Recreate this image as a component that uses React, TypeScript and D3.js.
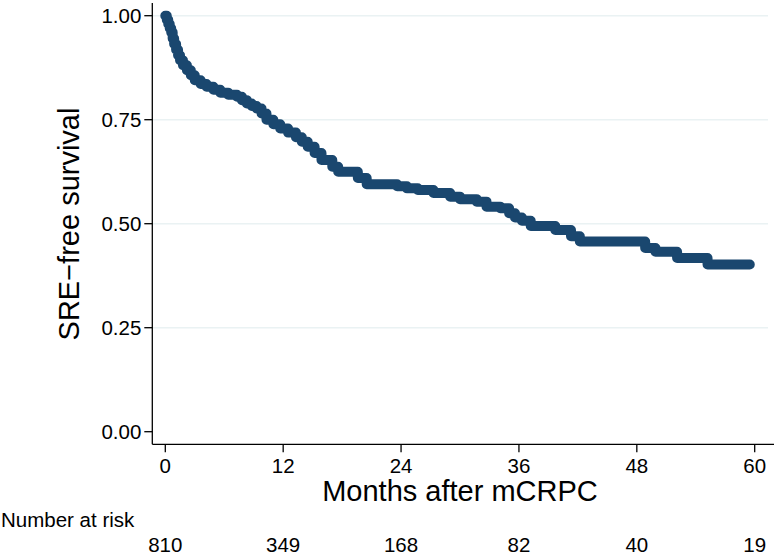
import React, { useEffect, useRef } from 'react';
import * as d3 from 'd3';

// KM step points: time (months) at which survival drops to the given value
const times = [0, 0.15, 0.3, 0.45, 0.6, 0.75, 0.9, 1.1, 1.3, 1.5, 1.8, 2.2, 2.6, 3.0, 3.6, 4.2, 4.9, 5.6, 6.4, 7.3, 7.8, 8.3, 8.8, 9.3, 9.8, 10.3, 11.0, 11.7, 12.5, 13.3, 13.9, 14.5, 15.2, 15.9, 17.0, 17.6, 19.6, 20.5, 23.6, 24.6, 25.7, 27.3, 29.0, 30.0, 31.7, 32.7, 34.1, 35.0, 35.6, 36.3, 37.2, 39.7, 41.3, 42.2, 48.85, 49.9, 52.1, 55.2, 59.5];
const survival = [1.0, 0.99, 0.98, 0.97, 0.96, 0.945, 0.932, 0.918, 0.905, 0.893, 0.881, 0.869, 0.857, 0.845, 0.836, 0.829, 0.822, 0.815, 0.81, 0.805, 0.797, 0.789, 0.783, 0.777, 0.765, 0.75, 0.739, 0.729, 0.719, 0.708, 0.697, 0.685, 0.67, 0.653, 0.637, 0.625, 0.61, 0.595, 0.59, 0.585, 0.581, 0.574, 0.565, 0.559, 0.553, 0.541, 0.537, 0.525, 0.515, 0.507, 0.4945, 0.485, 0.47, 0.457, 0.4416, 0.4327, 0.4175, 0.402, 0.402];

const yTicks = [0, 0.25, 0.5, 0.75, 1];
const xTicks = [0, 12, 24, 36, 48, 60];
const atRisk = [810, 349, 168, 82, 40, 19];

const W = 774;
const H = 556;
const FONT = "'Liberation Sans', Arial, Helvetica, sans-serif";

const App: React.FC = () => {
    const ref = useRef<SVGSVGElement | null>(null);

    useEffect(() => {
        const svg = d3.select(ref.current);
        svg.selectAll('*').remove();

        const x = d3.scaleLinear().domain([0, 60]).range([165.3, 754.7]);
        const y = d3.scaleLinear().domain([0, 1]).range([431.7, 15.7]);

        const axisLeftX = 152.3;
        const axisBottomY = 444.3;

        // gridlines
        svg.append('g')
            .selectAll('line')
            .data(yTicks.filter(d => d > 0))
            .enter()
            .append('line')
            .attr('x1', axisLeftX)
            .attr('x2', 768)
            .attr('y1', d => y(d))
            .attr('y2', d => y(d))
            .attr('stroke', '#eaf2f3')
            .attr('stroke-width', 1.5);

        // curve
        const pts = times.map((t, i) => [t, survival[i]] as [number, number]);
        const line = d3.line<[number, number]>()
            .x(d => x(d[0]))
            .y(d => y(d[1]))
            .curve(d3.curveStepAfter);

        svg.append('path')
            .attr('d', line(pts))
            .attr('fill', 'none')
            .attr('stroke', '#1a476f')
            .attr('stroke-width', 10)
            .attr('stroke-linecap', 'round')
            .attr('stroke-linejoin', 'round');

        // axes
        svg.append('line')
            .attr('x1', axisLeftX).attr('x2', axisLeftX)
            .attr('y1', 3).attr('y2', axisBottomY)
            .attr('stroke', '#000').attr('stroke-width', 1.3);
        svg.append('line')
            .attr('x1', axisLeftX).attr('x2', W)
            .attr('y1', axisBottomY).attr('y2', axisBottomY)
            .attr('stroke', '#000').attr('stroke-width', 1.3);

        const yt = svg.append('g');
        yTicks.forEach(d => {
            yt.append('line')
                .attr('x1', axisLeftX - 8).attr('x2', axisLeftX)
                .attr('y1', y(d)).attr('y2', y(d))
                .attr('stroke', '#000').attr('stroke-width', 1.3);
            yt.append('text')
                .attr('x', axisLeftX - 11)
                .attr('y', y(d))
                .attr('dy', '0.36em')
                .attr('text-anchor', 'end')
                .style('font-family', FONT)
                .style('font-size', '20.5px')
                .text(d3.format('.2f')(d));
        });

        const xt = svg.append('g');
        xTicks.forEach((d, i) => {
            xt.append('line')
                .attr('x1', x(d)).attr('x2', x(d))
                .attr('y1', axisBottomY).attr('y2', axisBottomY + 8)
                .attr('stroke', '#000').attr('stroke-width', 1.3);
            xt.append('text')
                .attr('x', x(d))
                .attr('y', 472.5)
                .attr('text-anchor', 'middle')
                .style('font-family', FONT)
                .style('font-size', '20.5px')
                .text(d);
            // numbers at risk
            xt.append('text')
                .attr('x', x(d))
                .attr('y', 551.5)
                .attr('text-anchor', 'middle')
                .style('font-family', FONT)
                .style('font-size', '20.5px')
                .text(atRisk[i]);
        });

        svg.append('text')
            .attr('x', 460)
            .attr('y', 501)
            .attr('text-anchor', 'middle')
            .style('font-family', FONT)
            .style('font-size', '29px')
            .text('Months after mCRPC');

        svg.append('text')
            .attr('transform', 'translate(79,224) rotate(-90)')
            .attr('text-anchor', 'middle')
            .style('font-family', FONT)
            .style('font-size', '29px')
            .text('SRE\u2212free survival');

        svg.append('text')
            .attr('x', 1)
            .attr('y', 527)
            .style('font-family', FONT)
            .style('font-size', '20.5px')
            .text('Number at risk');
    }, []);

    return (
        <svg
            ref={ref}
            width={W}
            height={H}
            style={{ position: 'absolute', left: 0, top: 0, background: '#fff' }}
        />
    );
};

export default App;
